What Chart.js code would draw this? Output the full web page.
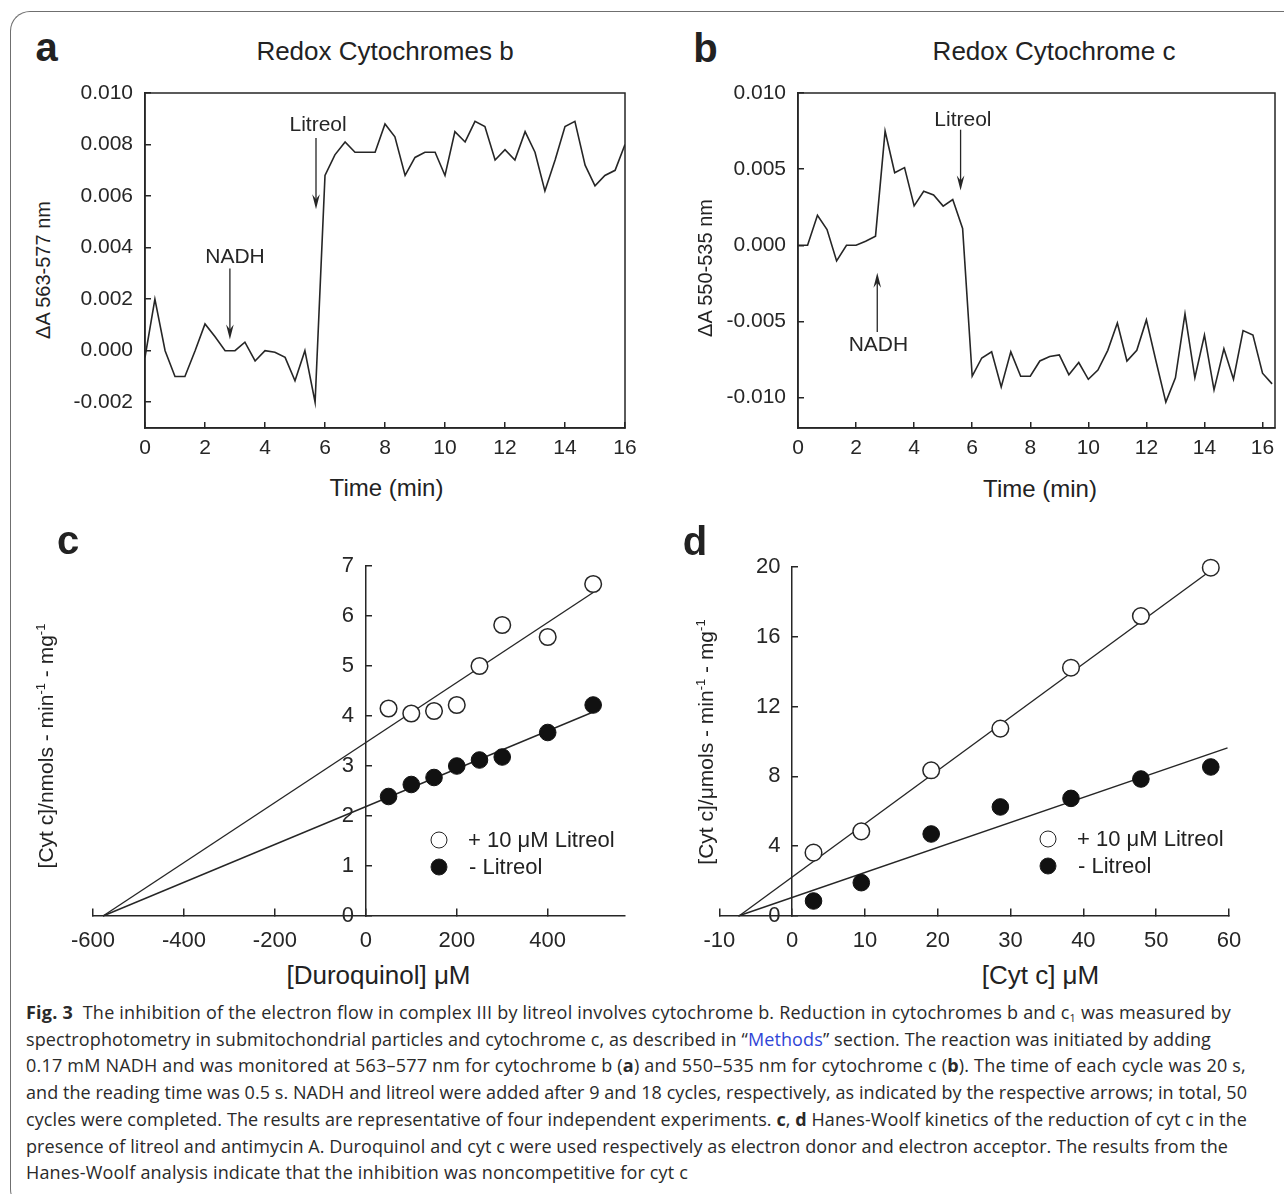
<!DOCTYPE html>
<html><head><meta charset="utf-8">
<script src="https://cdn.jsdelivr.net/npm/chart.js@4.4.1/dist/chart.umd.min.js"></script>
<style>
html,body{margin:0;padding:0;background:#fff;}
#page{position:relative;width:1284px;height:1194px;overflow:hidden;font-family:'Liberation Sans',Arial,Helvetica,sans-serif;color:#222;}
.frame{position:absolute;left:10px;top:11px;width:1320px;height:1198px;border-left:1.5px solid #6f6f6f;border-top:1.5px solid #6f6f6f;border-top-left-radius:20px;border-bottom-left-radius:20px;box-sizing:border-box;}
canvas{position:absolute;}
.t{position:absolute;white-space:nowrap;line-height:1;transform:translate(-50%,-50%);}
.r{transform:translate(-50%,-50%) rotate(-90deg);}
.letter{font-weight:bold;font-size:40px;}
.ttl{font-size:26px;}
.xt{font-size:24px;}
.yt{font-size:20px;}
.yt2{font-size:21px;}
.xt2{font-size:26px;}
.yt2 sup{font-size:0.62em;vertical-align:0.55em;line-height:0;}
.lg{position:absolute;font-size:22px;white-space:nowrap;line-height:1;transform:translateY(-50%);}
.mk{position:absolute;width:17px;height:17px;border-radius:50%;box-sizing:border-box;border:1.5px solid #222;transform:translate(-50%,-50%);}
.mk.open{background:#fff;}
.mk.fill{background:#111;}
.cap{position:absolute;left:26px;top:999px;font-family:'Open Sans','Noto Sans',sans-serif;font-size:18px;line-height:26.7px;color:#2a2a2a;}
.cl{display:block;white-space:nowrap;}
.cl span.in{display:inline-block;}
.cap sub{font-size:0.6em;vertical-align:-0.25em;line-height:0;}
.lnk{color:#2f45d6;}
</style></head>
<body><div id="page">
<div class="frame"></div>

<canvas id="ca" width="590" height="390" style="left:60px;top:80px"></canvas>
<canvas id="cb" width="574" height="390" style="left:710px;top:80px"></canvas>
<canvas id="cc" width="600" height="410" style="left:40px;top:545px"></canvas>
<canvas id="cd" width="570" height="410" style="left:690px;top:545px"></canvas>

<div class="t letter" style="left:46.5px;top:46.5px">a</div>
<div class="t letter" style="left:705.5px;top:47.5px">b</div>
<div class="t letter" style="left:68px;top:540px">c</div>
<div class="t letter" style="left:695px;top:541px">d</div>

<div class="t ttl" style="left:385px;top:51px">Redox Cytochromes b</div>
<div class="t ttl" style="left:1054px;top:51px">Redox Cytochrome c</div>
<div class="t xt" style="left:386.5px;top:488px">Time (min)</div>
<div class="t xt" style="left:1040px;top:489px">Time (min)</div>
<div class="t r yt" style="left:43px;top:270px">ΔA 563-577 nm</div>
<div class="t r yt" style="left:705px;top:268px">ΔA 550-535 nm</div>
<div class="t r yt2" style="left:45px;top:746px">[Cyt c]/nmols - min<sup>-1</sup> - mg<sup>-1</sup></div>
<div class="t r yt2" style="left:705px;top:742px">[Cyt c]/μmols - min<sup>-1</sup> - mg<sup>-1</sup></div>
<div class="t xt2" style="left:378.5px;top:975px">[Duroquinol] μM</div>
<div class="t xt2" style="left:1040.5px;top:975px">[Cyt c] μM</div>

<div class="mk open" style="left:439px;top:840px"></div>
<div class="lg" style="left:468px;top:840px">+ 10 μM Litreol</div>
<div class="mk fill" style="left:439px;top:867px"></div>
<div class="lg" style="left:469px;top:867px">- Litreol</div>
<div class="mk open" style="left:1048px;top:839px"></div>
<div class="lg" style="left:1077px;top:839px">+ 10 μM Litreol</div>
<div class="mk fill" style="left:1048px;top:866px"></div>
<div class="lg" style="left:1078px;top:866px">- Litreol</div>

<div class="cap">
<div class="cl"><span class="in" data-w="1205"><b>Fig. 3</b>&nbsp; The inhibition of the electron flow in complex III by litreol involves cytochrome b. Reduction in cytochromes b and c<sub>1</sub> was measured by</span></div>
<div class="cl"><span class="in" data-w="1185">spectrophotometry in submitochondrial particles and cytochrome c, as described in “<span class="lnk">Methods</span>” section. The reaction was initiated by adding</span></div>
<div class="cl"><span class="in" data-w="1220">0.17 mM NADH and was monitored at 563–577 nm for cytochrome b (<b>a</b>) and 550–535 nm for cytochrome c (<b>b</b>). The time of each cycle was 20 s,</span></div>
<div class="cl"><span class="in" data-w="1221">and the reading time was 0.5 s. NADH and litreol were added after 9 and 18 cycles, respectively, as indicated by the respective arrows; in total, 50</span></div>
<div class="cl"><span class="in" data-w="1221">cycles were completed. The results are representative of four independent experiments. <b>c</b>, <b>d</b> Hanes-Woolf kinetics of the reduction of cyt c in the</span></div>
<div class="cl"><span class="in" data-w="1202">presence of litreol and antimycin A. Duroquinol and cyt c were used respectively as electron donor and electron acceptor. The results from the</span></div>
<div class="cl"><span class="in" data-w="662">Hanes-Woolf analysis indicate that the inhibition was noncompetitive for cyt c</span></div>
</div>
</div>

<script>
// ---------- Panel a: Redox Cytochromes b ----------
const timeA = [0,0.33,0.67,1,1.33,1.67,2,2.33,2.67,3,3.33,3.67,4,4.33,4.67,5,5.33,5.67,6,6.33,6.67,7,7.33,7.67,8,8.33,8.67,9,9.33,9.67,10,10.33,10.67,11,11.33,11.67,12,12.33,12.67,13,13.33,13.67,14,14.33,14.67,15,15.33,15.67,16];
const deltaA = [-0.00026,0.0020,0.0000,-0.0010,-0.0010,0.0000,0.00104,0.00055,0.0000,0.0000,0.00033,-0.0004,0.0000,-0.00006,-0.00026,-0.00117,0.0000,-0.0020,0.0068,0.0076,0.0081,0.0077,0.0077,0.0077,0.0088,0.0083,0.0068,0.0075,0.0077,0.0077,0.0068,0.0085,0.0081,0.0089,0.0087,0.0074,0.0078,0.0074,0.0085,0.0077,0.0062,0.0074,0.0087,0.0089,0.0072,0.0064,0.0068,0.0070,0.0080];
const xTicksA = [0,2,4,6,8,10,12,14,16];
const yTicksA = [-0.002,0,0.002,0.004,0.006,0.008,0.010];
const arrowsA = [
  {label:'NADH', x:2.83, from:0.00319, to:0.00043, tx:3.0, ty:0.00364},
  {label:'Litreol', x:5.70, from:0.00825, to:0.00549, tx:5.77, ty:0.00874}
];

// ---------- Panel b: Redox Cytochrome c ----------
const timeB = [0,0.33,0.67,1,1.33,1.67,2,2.33,2.67,3,3.33,3.67,4,4.33,4.67,5,5.33,5.67,6,6.33,6.67,7,7.33,7.67,8,8.33,8.67,9,9.33,9.67,10,10.33,10.67,11,11.33,11.67,12,12.33,12.67,13,13.33,13.67,14,14.33,14.67,15,15.33,15.67,16,16.33];
const deltaB = [0.0,0.0,0.00197,0.00103,-0.00103,0.0,0.0,0.00026,0.0006,0.0075,0.00476,0.0051,0.00259,0.00355,0.0033,0.00257,0.0030,0.0011,-0.0086,-0.0074,-0.0070,-0.0093,-0.0070,-0.0086,-0.0086,-0.0076,-0.0073,-0.0072,-0.0085,-0.0077,-0.0088,-0.0082,-0.0069,-0.0051,-0.0076,-0.0069,-0.0049,-0.0076,-0.0103,-0.0087,-0.0045,-0.0087,-0.0059,-0.0095,-0.0068,-0.0088,-0.0056,-0.0059,-0.0084,-0.0091];
const xTicksB = [0,2,4,6,8,10,12,14,16];
const yTicksB = [-0.010,-0.005,0,0.005,0.010];
const arrowsB = [
  {label:'NADH', x:2.73, from:-0.00569, to:-0.00181, tx:2.77, ty:-0.00656},
  {label:'Litreol', x:5.60, from:0.00759, to:0.0036, tx:5.68, ty:0.00823}
];

// ---------- Panel c: Hanes-Woolf, duroquinol ----------
const duroquinol = [50,100,150,200,250,300,400,500];
const rateLitreolC = [4.15,4.05,4.10,4.22,5.00,5.82,5.58,6.64];
const rateControlC = [2.39,2.63,2.77,3.00,3.12,3.18,3.67,4.22];
const fitLitreolC = [[-578,0],[500,6.47]];
const fitControlC = [[-578,0],[500,4.08]];
const xTicksC = [-600,-400,-200,0,200,400];
const yTicksC = [0,1,2,3,4,5,6,7];

// ---------- Panel d: Hanes-Woolf, cyt c ----------
const cytC = [2.94,9.5,19.1,28.6,38.3,47.9,57.5];
const rateLitreolD = [3.63,4.85,8.35,10.74,14.23,17.19,19.96];
const rateControlD = [0.86,1.91,4.70,6.25,6.74,7.85,8.54];
const fitLitreolD = [[-7.3,0],[57.5,19.8]];
const fitControlD = [[-7.4,0],[59.8,9.63]];
const xTicksD = [-10,0,10,20,30,40,50,60];
const yTicksD = [0,4,8,12,16,20];

// ---------- helpers ----------
const INK = '#262626';
const FONT = "'Liberation Sans', Arial, Helvetica, sans-serif";
Chart.defaults.font.family = FONT;
Chart.defaults.color = INK;

const setTicks = arr => s => { s.ticks = arr.map(v => ({value: v})); };
const fixW = w => s => { s.width = w; s.paddingTop = 0; s.paddingBottom = 0; s.paddingLeft = 0; s.paddingRight = 0; };
const fixH = h => s => { s.height = h; s.paddingTop = 0; s.paddingBottom = 0; s.paddingLeft = 0; s.paddingRight = 0; };
const pts = (xs, ys) => xs.map((x, i) => ({x: x, y: ys[i]}));
const seg = arr => arr.map(p => ({x: p[0], y: p[1]}));

const boxPlugin = {
  id: 'box',
  afterDraw(chart) {
    const {ctx, chartArea: a} = chart;
    ctx.save();
    ctx.strokeStyle = INK; ctx.lineWidth = 1.5;
    ctx.strokeRect(a.left, a.top, a.right - a.left, a.bottom - a.top);
    ctx.restore();
  }
};

const arrowPlugin = {
  id: 'arrows',
  afterDatasetsDraw(chart, args, opts) {
    const {ctx} = chart;
    const xs = chart.scales.x, ys = chart.scales.y;
    ctx.save();
    ctx.strokeStyle = INK; ctx.fillStyle = INK; ctx.lineWidth = 1.3;
    for (const a of (opts.items || [])) {
      const x = xs.getPixelForValue(a.x);
      const y0 = ys.getPixelForValue(a.from), y1 = ys.getPixelForValue(a.to);
      const dir = Math.sign(y1 - y0);
      ctx.beginPath(); ctx.moveTo(x, y0); ctx.lineTo(x, y1 - dir * 6); ctx.stroke();
      ctx.beginPath();
      ctx.moveTo(x, y1);
      ctx.lineTo(x - 3.8, y1 - dir * 15);
      ctx.lineTo(x, y1 - dir * 10);
      ctx.lineTo(x + 3.8, y1 - dir * 15);
      ctx.closePath(); ctx.fill();
      ctx.font = '21px ' + FONT;
      ctx.textAlign = 'center'; ctx.textBaseline = 'middle';
      ctx.fillText(a.label, xs.getPixelForValue(a.tx), ys.getPixelForValue(a.ty));
    }
    ctx.restore();
  }
};

const gridIn = len => ({drawOnChartArea: false, drawTicks: true, tickLength: len, color: INK, lineWidth: 1.5});
const border = {display: true, color: INK, width: 1.5};

function timeChart(id, times, values, xTicks, yTicks, xMax, yMin, yMax, yW, padR, arrows) {
  return new Chart(document.getElementById(id), {
    type: 'scatter',
    data: {datasets: [{data: pts(times, values), showLine: true, borderColor: INK, borderWidth: 1.6, pointRadius: 0, tension: 0}]},
    options: {
      responsive: false, animation: false, events: [],
      layout: {padding: {left: 0, right: padR, top: 13, bottom: 0}},
      plugins: {legend: {display: false}, tooltip: {enabled: false}, arrows: {items: arrows}},
      scales: {
        x: {type: 'linear', min: 0, max: xMax, afterBuildTicks: setTicks(xTicks), afterFit: fixH(42),
            grid: gridIn(-6), border: border,
            ticks: {font: {size: 21}, color: INK, padding: 14, maxRotation: 0, autoSkip: false, callback: v => String(v)}},
        y: {type: 'linear', min: yMin, max: yMax, afterBuildTicks: setTicks(yTicks), afterFit: fixW(yW),
            grid: gridIn(-6), border: border,
            ticks: {font: {size: 21}, color: INK, padding: 18, autoSkip: false, callback: v => v.toFixed(3)}}
      }
    },
    plugins: [boxPlugin, arrowPlugin]
  });
}

function hwChart(id, xs, openY, fillY, fitOpen, fitFill, xTicks, yTicks, xMin, xMax, yMax, labShift, pad) {
  return new Chart(document.getElementById(id), {
    type: 'scatter',
    data: {datasets: [
      {data: pts(xs, openY), showLine: false, pointRadius: 8.3, pointBackgroundColor: '#fff', pointBorderColor: INK, pointBorderWidth: 1.5, clip: false, order: 0},
      {data: pts(xs, fillY), showLine: false, pointRadius: 8.3, pointBackgroundColor: '#111', pointBorderColor: '#111', pointBorderWidth: 1, clip: false, order: 0},
      {data: seg(fitOpen), showLine: true, borderColor: INK, borderWidth: 1.4, pointRadius: 0, clip: false, order: 1},
      {data: seg(fitFill), showLine: true, borderColor: INK, borderWidth: 1.4, pointRadius: 0, clip: false, order: 1}
    ]},
    options: {
      responsive: false, animation: false, events: [],
      layout: {padding: pad},
      plugins: {legend: {display: false}, tooltip: {enabled: false}},
      scales: {
        x: {type: 'linear', axis: 'x', min: xMin, max: xMax, position: {y: 0}, afterBuildTicks: setTicks(xTicks), afterFit: fixH(0),
            grid: gridIn(-8), border: border,
            ticks: {font: {size: 22}, color: INK, padding: 20, maxRotation: 0, autoSkip: false, callback: v => String(v)}},
        y: {type: 'linear', axis: 'y', min: 0, max: yMax, position: {x: 0}, afterBuildTicks: setTicks(yTicks), afterFit: fixW(0),
            grid: gridIn(-7), border: border, ticks: {display: false}},
        yLab: {type: 'linear', axis: 'y', min: 0, max: yMax, position: {x: labShift}, afterBuildTicks: setTicks(yTicks), afterFit: fixW(0),
            grid: {display: false}, border: {display: false},
            ticks: {font: {size: 22}, color: INK, autoSkip: false, callback: v => String(v)}}
      }
    }
  });
}

timeChart('ca', timeA, deltaA, xTicksA, yTicksA, 16, -0.003, 0.010, 85, 25, arrowsA);
timeChart('cb', timeB, deltaB, xTicksB, yTicksB, 16.43, -0.012, 0.010, 88, 9, arrowsB);
hwChart('cc', duroquinol, rateLitreolC, rateControlC, fitLitreolC, fitControlC, xTicksC, yTicksC, -600, 570, 7, -26,
        {left: 53, right: 15, top: 21, bottom: 39});
hwChart('cd', cytC, rateLitreolD, rateControlD, fitLitreolD, fitControlD, xTicksD, yTicksD, -10, 60, 20, -1.6,
        {left: 29.3, right: 31, top: 22, bottom: 39});

// caption line fitting
function fitCaption() {
  document.querySelectorAll('.cap span.in').forEach(el => {
    el.style.letterSpacing = '0px';
    const w = el.getBoundingClientRect().width;
    const target = parseFloat(el.dataset.w);
    const n = el.textContent.length;
    el.style.letterSpacing = ((target - w) / n).toFixed(3) + 'px';
  });
}
fitCaption();
if (document.fonts && document.fonts.ready) document.fonts.ready.then(fitCaption);
</script>
</body></html>
